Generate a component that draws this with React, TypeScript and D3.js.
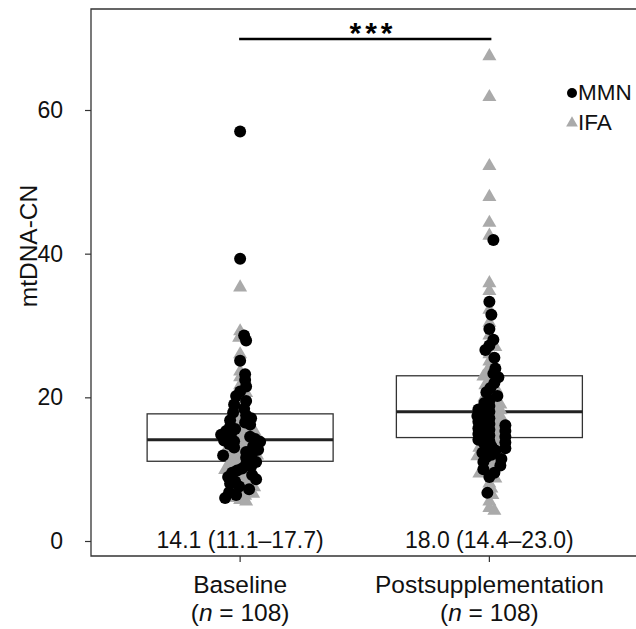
import * as d3 from "d3";
import React, { useRef, useEffect } from "react";

const W = 636;
const H = 629;

const categories = ["Baseline", "Postsupplementation"];
const nLabels = ["108", "108"];
const summaries = ["14.1 (11.1–17.7)", "18.0 (14.4–23.0)"];
// median, q1, q3
const boxStats = [
  { med: 14.1, q1: 11.1, q3: 17.7 },
  { med: 18.0, q1: 14.4, q3: 23.0 },
];
const yTicks = [0, 20, 40, 60];

const baselineMMN = [
  57.0, 39.3, 28.6, 27.9, 25.1, 23.2, 22.4, 21.5, 20.8, 20.2, 19.5, 19.0, 18.4,
  17.9, 17.5, 17.1, 16.8, 16.5, 16.2, 15.9, 15.6, 15.3, 15.0, 14.8, 14.5, 14.2,
  14.0, 13.8, 13.5, 13.2, 13.0, 12.7, 12.4, 12.2, 11.9, 11.6, 11.3, 11.0, 10.7,
  10.4, 10.1, 9.8, 9.5, 9.2, 8.9, 8.6, 8.3, 8.0, 7.6, 7.2, 6.8, 6.4, 6.0, 13.9,
];
const baselineIFA = [
  35.3, 29.2, 28.3, 26.0, 23.6, 22.8, 21.7, 20.6, 19.8, 19.0, 18.3, 17.6, 17.2,
  16.8, 16.4, 16.0, 15.7, 15.4, 15.1, 14.8, 14.5, 14.3, 14.0, 13.7, 13.4, 13.1,
  12.8, 12.5, 12.2, 11.9, 11.6, 11.3, 11.0, 10.8, 10.5, 10.2, 9.9, 9.6, 9.3,
  9.0, 8.7, 8.4, 8.1, 7.8, 7.5, 7.2, 6.9, 6.6, 6.3, 6.0, 5.7, 5.5, 12.0, 15.2,
];
const postMMN = [
  41.9, 33.3, 31.5, 29.5, 28.0, 27.2, 26.6, 25.5, 24.0, 23.3, 22.8, 22.0, 21.3,
  20.7, 20.2, 19.6, 19.2, 18.8, 18.4, 18.0, 17.7, 17.4, 17.1, 16.8, 16.6, 16.3,
  16.1, 15.9, 15.7, 15.5, 15.3, 15.1, 14.9, 14.7, 14.5, 14.3, 14.1, 13.9, 13.7,
  13.5, 13.2, 12.9, 12.6, 12.3, 12.0, 11.7, 11.4, 11.0, 10.5, 10.0, 9.5, 8.9,
  6.7, 18.3,
];
const postIFA = [
  67.5, 61.8, 52.2, 47.9, 44.3, 42.5, 35.9, 34.8, 32.2, 30.4, 28.6, 27.0, 26.0,
  25.0, 24.2, 23.5, 22.9, 22.3, 21.7, 21.1, 20.5, 20.0, 19.5, 19.0, 18.6, 18.2,
  17.8, 17.4, 17.0, 16.6, 16.2, 15.8, 15.4, 15.0, 14.6, 14.2, 13.8, 13.4, 13.0,
  12.6, 12.2, 11.8, 11.4, 11.0, 10.5, 10.0, 9.4, 8.7, 8.0, 7.3, 6.4, 5.5, 4.6,
  4.2,
];

const groups = [
  { mmn: baselineMMN, ifa: baselineIFA },
  { mmn: postMMN, ifa: postIFA },
];

const frame = { left: 91, top: 9, bottom: 556 };
const FONT = "'Liberation Sans', Arial, sans-serif";

// simple beeswarm: place each point as close to centre as possible
function swarm(pts, minDist) {
  const placed = [];
  const sorted = [...pts].sort((a, b) => a.py - b.py);
  sorted.forEach((p) => {
    let off = 0;
    for (let k = 0; k < 200; k++) {
      const cand = k === 0 ? 0 : (k % 2 ? 1 : -1) * Math.ceil(k / 2);
      const ok = placed.every((q) => {
        const dx = q.dx - cand;
        const dy = q.py - p.py;
        return dx * dx + dy * dy >= minDist * minDist;
      });
      if (ok) {
        off = cand;
        break;
      }
    }
    p.dx = off;
    placed.push(p);
  });
  return pts;
}

function App() {
  const ref = useRef(null);

  useEffect(() => {
    const svg = d3.select(ref.current);
    svg.selectAll("*").remove();

    const x = d3.scaleBand().domain(categories).range([115.5, 614]);
    const y = d3.scaleLinear().domain([0, 60]).range([541, 110]);
    const cx = (c) => x(c) + x.bandwidth() / 2;
    const boxW = 186;

    // frame (right side runs off the picture)
    svg
      .append("path")
      .attr("d", `M${W + 5},${frame.top}H${frame.left}V${frame.bottom}H${W + 5}`)
      .attr("fill", "none")
      .attr("stroke", "#333")
      .attr("stroke-width", 1.3);

    // y axis
    const yAxis = svg
      .append("g")
      .attr("transform", `translate(${frame.left},0)`)
      .call(d3.axisLeft(y).tickValues(yTicks).tickSize(6).tickPadding(22));
    yAxis.select(".domain").remove();
    yAxis.selectAll(".tick line").attr("stroke", "#333").attr("stroke-width", 1.2);
    yAxis
      .selectAll(".tick text")
      .attr("font-family", FONT)
      .attr("font-size", 23)
      .attr("fill", "#111");

    // x axis
    const xAxis = svg
      .append("g")
      .attr("transform", `translate(0,${frame.bottom})`)
      .call(d3.axisBottom(x).tickSize(6).tickFormat(() => ""));
    xAxis.select(".domain").remove();
    xAxis.selectAll(".tick line").attr("stroke", "#333").attr("stroke-width", 1.2);

    categories.forEach((c, i) => {
      svg
        .append("text")
        .attr("x", cx(c))
        .attr("y", 593)
        .attr("text-anchor", "middle")
        .attr("font-family", FONT)
        .attr("font-size", 24.5)
        .attr("fill", "#111")
        .text(c);
      const t = svg
        .append("text")
        .attr("x", cx(c))
        .attr("y", 621)
        .attr("text-anchor", "middle")
        .attr("font-family", FONT)
        .attr("font-size", 24.5)
        .attr("fill", "#111");
      t.append("tspan").text("(");
      t.append("tspan").attr("font-style", "italic").text("n");
      t.append("tspan").text(` = ${nLabels[i]})`);

      svg
        .append("text")
        .attr("x", cx(c))
        .attr("y", 548)
        .attr("text-anchor", "middle")
        .attr("font-family", FONT)
        .attr("font-size", 23)
        .attr("fill", "#111")
        .text(summaries[i]);
    });

    // y title
    svg
      .append("text")
      .attr("transform", `translate(37,246) rotate(-90)`)
      .attr("text-anchor", "middle")
      .attr("font-family", FONT)
      .attr("font-size", 24.5)
      .attr("fill", "#111")
      .text("mtDNA-CN");

    // boxes
    boxStats.forEach((b, i) => {
      const c = cx(categories[i]);
      svg
        .append("rect")
        .attr("x", c - boxW / 2)
        .attr("y", y(b.q3))
        .attr("width", boxW)
        .attr("height", y(b.q1) - y(b.q3))
        .attr("fill", "none")
        .attr("stroke", "#333")
        .attr("stroke-width", 1.3);
      svg
        .append("line")
        .attr("x1", c - boxW / 2)
        .attr("x2", c + boxW / 2)
        .attr("y1", y(b.med))
        .attr("y2", y(b.med))
        .attr("stroke", "#222")
        .attr("stroke-width", 3);
    });

    // points
    const tri = d3.symbol().type(d3.symbolTriangle).size(85);
    groups.forEach((g, i) => {
      const c = cx(categories[i]);
      const pts = [
        ...g.ifa.map((v) => ({ v, kind: "IFA", py: y(v), dx: 0 })),
        ...g.mmn.map((v) => ({ v, kind: "MMN", py: y(v), dx: 0 })),
      ];
      swarm(pts, 5.4);
      svg
        .append("g")
        .selectAll("path")
        .data(pts.filter((p) => p.kind === "IFA"))
        .join("path")
        .attr("d", tri)
        .attr("transform", (p) => `translate(${c + p.dx},${p.py})`)
        .attr("fill", "#aaaaaa");
      svg
        .append("g")
        .selectAll("circle")
        .data(pts.filter((p) => p.kind === "MMN"))
        .join("circle")
        .attr("cx", (p) => c + p.dx)
        .attr("cy", (p) => p.py)
        .attr("r", 6)
        .attr("fill", "#000");
    });

    // significance bar
    svg
      .append("line")
      .attr("x1", cx(categories[0]) - 1)
      .attr("x2", cx(categories[1]) + 2)
      .attr("y1", 39)
      .attr("y2", 39)
      .attr("stroke", "#000")
      .attr("stroke-width", 2.5);
    svg
      .append("text")
      .attr("x", 373)
      .attr("y", 43)
      .attr("text-anchor", "middle")
      .attr("font-family", FONT)
      .attr("font-weight", "bold")
      .attr("font-size", 30)
      .attr("letter-spacing", 4)
      .attr("fill", "#000")
      .text("***");

    // legend
    const triSmall = d3.symbol().type(d3.symbolTriangle).size(60);
    svg.append("circle").attr("cx", 572).attr("cy", 93).attr("r", 5).attr("fill", "#000");
    svg
      .append("text")
      .attr("x", 578)
      .attr("y", 100)
      .attr("font-family", FONT)
      .attr("font-size", 22.5)
      .attr("fill", "#111")
      .text("MMN");
    svg
      .append("path")
      .attr("d", triSmall)
      .attr("transform", "translate(572,123)")
      .attr("fill", "#aaaaaa");
    svg
      .append("text")
      .attr("x", 578)
      .attr("y", 130)
      .attr("font-family", FONT)
      .attr("font-size", 22.5)
      .attr("fill", "#111")
      .text("IFA");
  }, []);

  return (
    <div style={{ position: "fixed", left: 0, top: 0 }}>
      <svg ref={ref} width={W} height={H} style={{ display: "block", background: "#fff" }}></svg>
    </div>
  );
}

export default App;
